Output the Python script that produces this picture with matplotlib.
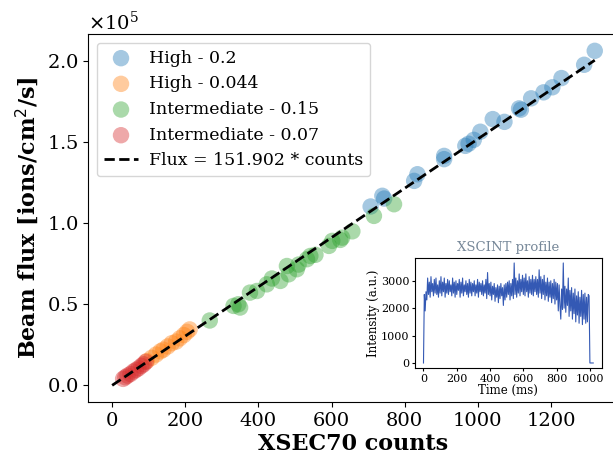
import matplotlib
matplotlib.use("Agg")
import matplotlib.pyplot as plt
import numpy as np

plt.rcParams["font.family"] = "DejaVu Serif"

# --- beam-flux calibration points, flux in units of 1e5 ions/cm^2/s ---
high_02_counts = [707, 739, 744, 826, 835, 908, 908, 966, 975, 989, 1007,
                  1041, 1073, 1113, 1118, 1146, 1180, 1204, 1229, 1291, 1320]
high_02_flux = [1.103, 1.169, 1.152, 1.261, 1.302, 1.415, 1.395, 1.477, 1.49,
                1.514, 1.564, 1.642, 1.625, 1.708, 1.70, 1.770, 1.807, 1.838,
                1.895, 1.977, 2.063]

high_0044_counts = [95, 108, 120, 132, 140, 152, 163, 175, 185, 196, 205, 212]
high_0044_flux = [0.15, 0.17, 0.19, 0.21, 0.22, 0.24, 0.26, 0.27, 0.29, 0.31,
                  0.33, 0.345]

inter_015_counts = [267, 332, 345, 350, 377, 396, 423, 437, 460, 478, 483,
                    505, 510, 533, 542, 556, 593, 602, 624, 629, 657, 716, 771]
inter_015_flux = [0.40, 0.49, 0.50, 0.48, 0.572, 0.582, 0.623, 0.659, 0.644,
                  0.736, 0.685, 0.716, 0.745, 0.778, 0.798, 0.805, 0.860,
                  0.891, 0.897, 0.911, 0.950, 1.045, 1.117]

inter_007_counts = [30, 36, 42, 50, 58, 65, 72, 80, 86, 92]
inter_007_flux = [0.04, 0.05, 0.06, 0.07, 0.085, 0.095, 0.105, 0.12, 0.13, 0.145]

fit_slope = 151.902
fit_counts = [0, 1320]

# --- XSCINT profile, one sample every 5 ms ---
profile_dt_ms = 5
profile_intensity = [
    0, 2500, 1900, 2600, 2300, 3100, 2500, 2950, 2400, 3150, 2600, 2900, 2450, 3050, 2550, 3100, 2500, 2850, 2400, 3000,
    2550, 3150, 2450, 2950, 2600, 3100, 2400, 2900, 2550, 3050, 2500, 3000, 2600, 2850, 2450, 3100, 2550, 2950, 2400, 3000,
    2500, 2900, 2650, 3050, 2400, 2950, 2550, 3100, 2450, 2850, 2600, 3000, 2500, 2900, 2400, 3050, 2550, 2950, 2450, 2900,
    2600, 3000, 2450, 2850, 2550, 3050, 2400, 2950, 2600, 2900, 2500, 3000, 2450, 2850, 2550, 3050, 2350, 3300, 2500, 2900,
    2450, 2950, 2300, 2800, 2500, 2900, 2250, 2750, 2400, 2850, 2200, 2800, 2350, 2900, 2450, 2750, 2100, 2850, 2300, 2900,
    2400, 2950, 2500, 3000, 2300, 2900, 2450, 3050, 2350, 3650, 2500, 3100, 2400, 3000, 2550, 3250, 2450, 3050, 2600, 3200,
    2500, 3100, 2450, 3250, 2600, 3000, 2400, 3150, 2550, 3050, 2500, 3200, 2450, 3050, 2600, 3150, 2500, 3050, 2400, 3400,
    2550, 3150, 2350, 3050, 2500, 3200, 2300, 2950, 2450, 3100, 2250, 2950, 2400, 3000, 2200, 2900, 2350, 3050, 2150, 2950,
    2300, 2900, 1900, 2850, 2100, 1600, 2700, 1950, 3650, 2000, 2800, 1850, 2700, 2100, 3100, 1700, 2650, 1900, 2750, 1600,
    2550, 1800, 2700, 1500, 2450, 1750, 2600, 1450, 2400, 1700, 2650, 1400, 2500, 1600, 2550, 1450, 2400, 1500, 2500, 2450,
    0, 0, 0, 0, 0,
]

fig = plt.figure(figsize=(6.13, 4.59), dpi=100)
ax = fig.add_axes([0.1436, 0.124, 0.866, 0.8017])

pt_kw = dict(s=140, alpha=0.4, edgecolors="none")
ax.scatter(high_02_counts, np.array(high_02_flux) * 1e5, color="tab:blue",
           label="High - 0.2", **pt_kw)
ax.scatter(high_0044_counts, np.array(high_0044_flux) * 1e5, color="tab:orange",
           label="High - 0.044", **pt_kw)
ax.scatter(inter_015_counts, np.array(inter_015_flux) * 1e5, color="tab:green",
           label="Intermediate - 0.15", **pt_kw)
ax.scatter(inter_007_counts, np.array(inter_007_flux) * 1e5, color="tab:red",
           label="Intermediate - 0.07", **pt_kw)
fit_x = np.array(fit_counts)
ax.plot(fit_x, fit_slope * fit_x, "k--", lw=2,
        label=f"Flux = {fit_slope:.3f} * counts")

ax.set_xlabel("XSEC70 counts", fontsize=16, fontweight="bold", labelpad=2)
ax.set_ylabel("Beam flux [ions/cm$^2$/s]", fontsize=16, fontweight="bold")
ax.tick_params(labelsize=14)
ax.ticklabel_format(style="sci", axis="y", scilimits=(0, 0), useMathText=True)
ax.yaxis.get_offset_text().set_fontsize(14)
ax.legend(loc="upper left", fontsize=12.5, handletextpad=0.6)

# inset: beam profile
ins = fig.add_axes([0.677, 0.1983, 0.3046, 0.2397])
profile_time = np.arange(len(profile_intensity)) * profile_dt_ms
ins.plot(profile_time, profile_intensity, color="#3459b4", lw=0.8)
ins.set_title("XSCINT profile", fontsize=9.5, color="#778899", pad=5)
ins.set_xlabel("Time (ms)", fontsize=8.5, labelpad=0)
ins.set_ylabel("Intensity (a.u.)", fontsize=8.5, labelpad=1)
ins.set_xticks([0, 200, 400, 600, 800, 1000])
ins.set_yticks([0, 1000, 2000, 3000])
ins.tick_params(labelsize=8, length=2.5, pad=1.5)

fig.savefig("out.png", dpi=100)
